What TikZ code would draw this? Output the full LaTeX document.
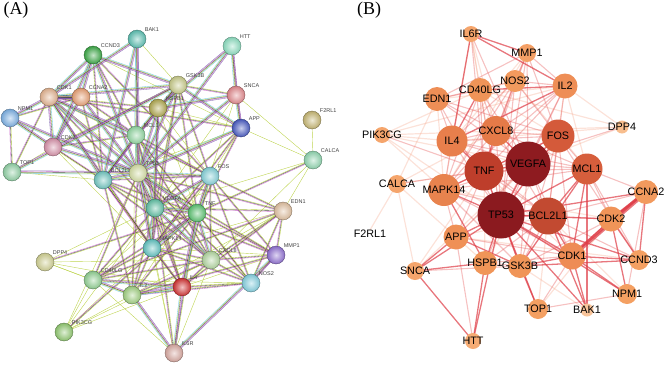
\documentclass[tikz,border=0pt]{standalone}
\usepackage{fontspec}
\setmainfont{Liberation Serif}
\setsansfont{Liberation Sans}
\usetikzlibrary{calc}
\pgfdeclarelayer{edges}
\pgfsetlayers{edges,main}
\newcommand\Anode[4]{\definecolor{ac#1}{HTML}{#4}\node[anode,inner color=ac#1!30!white,outer color=ac#1!92!black,draw=ac#1!55!black,label={[alab]45:#1}] (a#1) at (#2,#3) {};}
\newcommand\Bnode[5]{\definecolor{bc#1}{HTML}{#5}\node[bnode,minimum size=#4pt,fill=bc#1,label={[blab]center:#1}] (b#1) at (#2,#3) {};}
\newcommand\EdgeY[2]{\draw[eY] (a#1.center) -- (a#2.center);}
\newcommand\EdgeM[2]{%
 \draw[eY] ($(a#1)!0.7pt!90:(a#2)$) -- ($(a#2)!0.7pt!-90:(a#1)$);
 \draw[eK] (a#1.center) -- (a#2.center);
 \draw[eP] ($(a#1)!0.7pt!-90:(a#2)$) -- ($(a#2)!0.7pt!90:(a#1)$);}
\newcommand\EdgeF[2]{\EdgeM{#1}{#2}%
 \draw[eC] ($(a#1)!1.4pt!90:(a#2)$) -- ($(a#2)!1.4pt!-90:(a#1)$);
 \draw[eV] ($(a#1)!1.4pt!-90:(a#2)$) -- ($(a#2)!1.4pt!90:(a#1)$);}
\newcommand\ListF{TP53/BCL2L1, TP53/MCL1, TP53/VEGFA, TP53/TNF, TP53/CDK1, TP53/CDK2, TP53/CCNA2, TP53/CCND3, TP53/NPM1, TP53/TOP1, TP53/BAK1, TP53/GSK3B, TP53/MAPK14, TP53/FOS, TP53/HSPB1, TP53/HTT, TP53/SNCA, TP53/APP, BCL2L1/MCL1, BCL2L1/BAK1, BCL2L1/CDK1, MCL1/BAK1, MCL1/GSK3B, MCL1/CDK1, CDK1/CDK2, CDK1/CCNA2, CDK2/CCNA2, CDK1/CCND3, CDK2/CCND3, CCNA2/CCND3, CDK1/NPM1, CDK2/NPM1, CDK1/BAK1, CDK1/GSK3B, CCND3/GSK3B, VEGFA/TNF, FOS/TNF, FOS/VEGFA, TNF/IL4, TNF/CXCL8, VEGFA/CXCL8, TNF/MAPK14, IL4/IL2, IL2/CD40LG, IL4/CD40LG, IL6R/IL2, IL6R/IL4, IL6R/MMP1, GSK3B/APP, APP/SNCA, SNCA/HTT, HTT/HSPB1, MAPK14/HSPB1, HSPB1/SNCA, GSK3B/TOP1}
\newcommand\ListM{VEGFA/MCL1, VEGFA/BCL2L1, VEGFA/IL4, VEGFA/IL2, VEGFA/MAPK14, VEGFA/EDN1, VEGFA/MMP1, VEGFA/CD40LG, VEGFA/IL6R, VEGFA/APP, VEGFA/HSPB1, VEGFA/GSK3B, VEGFA/CDK1, TNF/MCL1, TNF/BCL2L1, TNF/IL2, TNF/NOS2, TNF/MMP1, TNF/CD40LG, TNF/IL6R, TNF/APP, TNF/CALCA, TNF/DPP4, TNF/GSK3B, TNF/PIK3CG, TP53/CXCL8, TP53/IL4, TP53/IL2, TP53/NOS2, TP53/EDN1, TP53/CD40LG, TP53/MMP1, BCL2L1/CDK2, BCL2L1/CCNA2, BCL2L1/CCND3, BCL2L1/GSK3B, BCL2L1/FOS, BCL2L1/MAPK14, BCL2L1/IL4, BCL2L1/IL2, BCL2L1/CXCL8, BCL2L1/HSPB1, MCL1/CDK2, MCL1/CCNA2, MCL1/CCND3, MCL1/FOS, MCL1/MAPK14, MCL1/IL4, MCL1/CXCL8, FOS/CXCL8, FOS/IL4, FOS/MAPK14, FOS/NOS2, FOS/EDN1, FOS/MMP1, FOS/CDK1, FOS/CCND3, FOS/GSK3B, CXCL8/IL4, CXCL8/IL2, CXCL8/MAPK14, CXCL8/NOS2, CXCL8/EDN1, CXCL8/MMP1, CXCL8/CD40LG, IL4/MAPK14, IL4/NOS2, IL4/EDN1, MAPK14/IL2, MAPK14/NOS2, MAPK14/GSK3B, MAPK14/CDK1, MAPK14/APP, MAPK14/CD40LG, IL2/NOS2, IL2/MMP1, CDK1/TOP1, CDK1/HSPB1, CDK1/APP, CDK2/GSK3B, CCNA2/NPM1, GSK3B/SNCA, GSK3B/HSPB1, APP/HTT, NOS2/EDN1, NOS2/MMP1, EDN1/CD40LG, EDN1/MMP1, NPM1/TOP1}
\newcommand\ListY{VEGFA/CALCA, VEGFA/DPP4, VEGFA/PIK3CG, VEGFA/SNCA, TNF/HSPB1, TNF/SNCA, TNF/CDK1, TP53/IL6R, TP53/PIK3CG, BCL2L1/NPM1, BCL2L1/TOP1, BCL2L1/APP, MCL1/IL2, MCL1/NOS2, FOS/IL2, FOS/HSPB1, FOS/CD40LG, FOS/APP, CXCL8/IL6R, CXCL8/PIK3CG, CXCL8/DPP4, CXCL8/CALCA, IL4/MMP1, IL4/PIK3CG, IL4/DPP4, MAPK14/EDN1, MAPK14/MMP1, MAPK14/CDK2, MAPK14/PIK3CG, IL2/EDN1, IL2/DPP4, IL2/PIK3CG, CDK2/TOP1, NOS2/CD40LG, EDN1/CALCA, APP/CALCA, SNCA/CALCA, CD40LG/PIK3CG, CD40LG/DPP4, CD40LG/IL6R, MAPK14/IL6R, APP/HSPB1, CCND3/APP, BAK1/GSK3B}
\begin{document}
\begin{tikzpicture}[x=1pt,y=-1pt,
  anode/.style={circle,minimum size=18pt,inner sep=0pt,shading=radial,line width=0.35pt},
  alab/.style={font=\sffamily\fontsize{5.5}{6}\selectfont,text=black!75,inner sep=0.5pt,label distance=1pt},
  bnode/.style={circle,inner sep=0pt,draw=none},
  blab/.style={font=\sffamily\fontsize{10.8}{12}\selectfont,text=black,inner sep=0pt},
  eY/.style={draw={rgb,255:red,190;green,212;blue,80},line width=0.4pt},
  eK/.style={draw=black!80,line width=0.35pt,opacity=0.85},
  eP/.style={draw={rgb,255:red,200;green,90;blue,200},line width=0.35pt,opacity=0.85},
  eC/.style={draw={rgb,255:red,90;green,195;blue,230},line width=0.35pt,opacity=0.85},
  eV/.style={draw={rgb,255:red,120;green,90;blue,170},line width=0.35pt,opacity=0.85},
  bS/.style={draw={rgb,255:red,222;green,60;blue,70},opacity=0.7,line width=1.3pt},
  bM/.style={draw={rgb,255:red,232;green,100;blue,100},opacity=0.4,line width=1.1pt},
  bW/.style={draw={rgb,255:red,244;green,160;blue,130},opacity=0.3,line width=1.2pt},
  panel/.style={font=\fontsize{18}{20}\selectfont,inner sep=0pt}]
\path[use as bounding box] (0,0) rectangle (669,367);
\node[panel] (labA) at (16,10) {(A)};
\node[panel] (labB) at (369,10) {(B)};
% ---------- panel A nodes
\Anode{BAK1}{137}{39}{5EC2B4}
\Anode{CCND3}{93}{55}{3DAA48}
\Anode{HTT}{232}{46}{8EE0C2}
\Anode{GSK3B}{178}{85}{C9CC8A}
\Anode{SNCA}{236}{95}{E48A8E}
\Anode{CDK1}{49}{97}{E5B592}
\Anode{CCNA2}{81}{97}{EAA276}
\Anode{HSPB1}{158}{108}{B2AA52}
\Anode{NPM1}{10}{118}{7EB2E6}
\Anode{APP}{241}{128}{4A5CC4}
\Anode{F2RL1}{312}{120}{C8B874}
\Anode{MCL1}{136}{135}{92D8A2}
\Anode{CDK2}{53}{147}{D892AA}
\Anode{CALCA}{313}{160}{92D8B2}
\Anode{TOP1}{12}{172}{92D2A6}
\Anode{BCL2L1}{103}{180}{72C8C2}
\Anode{TP53}{138}{173}{D6E0A6}
\Anode{FOS}{210}{176}{86D2DA}
\Anode{VEGFA}{155}{208}{62C2A6}
\Anode{TNF}{197}{213}{5CC472}
\Anode{EDN1}{283}{211}{E2C2A2}
\Anode{MAPK14}{152}{248}{62C4C2}
\Anode{MMP1}{276}{255}{9272D4}
\Anode{DPP4}{45}{262}{D2D294}
\Anode{CXCL8}{211}{260}{B4D8A2}
\Anode{CD40LG}{93}{280}{92D294}
\Anode{NOS2}{251}{283}{86D2E2}
\Anode{IL4}{182}{287}{D43434}
\Anode{IL2}{132}{295}{A2D282}
\Anode{PIK3CG}{64}{332}{92CA72}
\Anode{IL6R}{174}{353}{DAAAA2}
% ---------- panel B nodes
\Bnode{IL6R}{471}{34}{16}{F5A56C}
\Bnode{MMP1}{527}{53}{18}{F4A066}
\Bnode{NOS2}{515}{81}{22}{F29A5E}
\Bnode{IL2}{565}{86}{25}{EE8E56}
\Bnode{CD40LG}{480}{90}{24}{F09458}
\Bnode{EDN1}{437}{99}{24}{EE8E56}
\Bnode{DPP4}{622}{127}{13}{F8BE8E}
\Bnode{PIK3CG}{382}{135}{16}{F5A56C}
\Bnode{IL4}{452}{141}{31}{E87F4C}
\Bnode{CXCL8}{496}{131}{30}{E57A48}
\Bnode{FOS}{558}{136}{33}{D45A3A}
\Bnode{VEGFA}{528}{164}{45}{8E1B20}
\Bnode{TNF}{484}{171}{39}{BE3E2B}
\Bnode{MCL1}{587}{169}{31}{D65E3C}
\Bnode{CALCA}{397}{184}{18}{F5A56C}
\Bnode{MAPK14}{444}{190}{32}{E8834E}
\Bnode{CCNA2}{646}{192}{24}{F29A5E}
\Bnode{TP53}{501}{215}{47}{8B1A1F}
\Bnode{BCL2L1}{548}{216}{37}{C24A31}
\Bnode{CDK2}{611}{219}{25}{F09458}
\Bnode{APP}{456}{237}{25}{EF9056}
\Bnode{CDK1}{572}{256}{27}{EE8C55}
\Bnode{CCND3}{639}{260}{20}{F4A062}
\Bnode{HSPB1}{485}{263}{24}{F09558}
\Bnode{GSK3B}{520}{266}{24}{F09558}
\Bnode{SNCA}{415}{271}{18}{F5A56C}
\Bnode{NPM1}{627}{294}{20}{F4A062}
\Bnode{TOP1}{538}{309}{20}{F4A062}
\Bnode{BAK1}{587}{310}{13}{F8C49A}
\Bnode{HTT}{473}{341}{16}{F6AC74}
\node[blab] (bF2RL1) at (370,234) {F2RL1};
% ---------- edges
\begin{pgfonlayer}{edges}
\foreach \p/\q in \ListY {\EdgeY{\p}{\q}}
\foreach \p/\q in \ListM {\EdgeM{\p}{\q}}
\foreach \p/\q in \ListF {\EdgeF{\p}{\q}}
\EdgeY{CALCA}{F2RL1}
\foreach \p/\q in \ListY {\draw[bW] (b\p.center) -- (b\q.center);}
\foreach \p/\q in \ListM {\draw[bM] (b\p.center) -- (b\q.center);}
\foreach \p/\q in \ListF {\draw[bS] (b\p.center) -- (b\q.center);}
\draw[bW] (bCALCA.center) -- (bF2RL1.north);
\draw[bS,line width=4.5pt] (bCDK1.center) -- (bCCNA2.center);
\draw[bS,line width=2.5pt] (bCDK2.center) -- (bCCNA2.center);
\end{pgfonlayer}
\end{tikzpicture}
\end{document}
